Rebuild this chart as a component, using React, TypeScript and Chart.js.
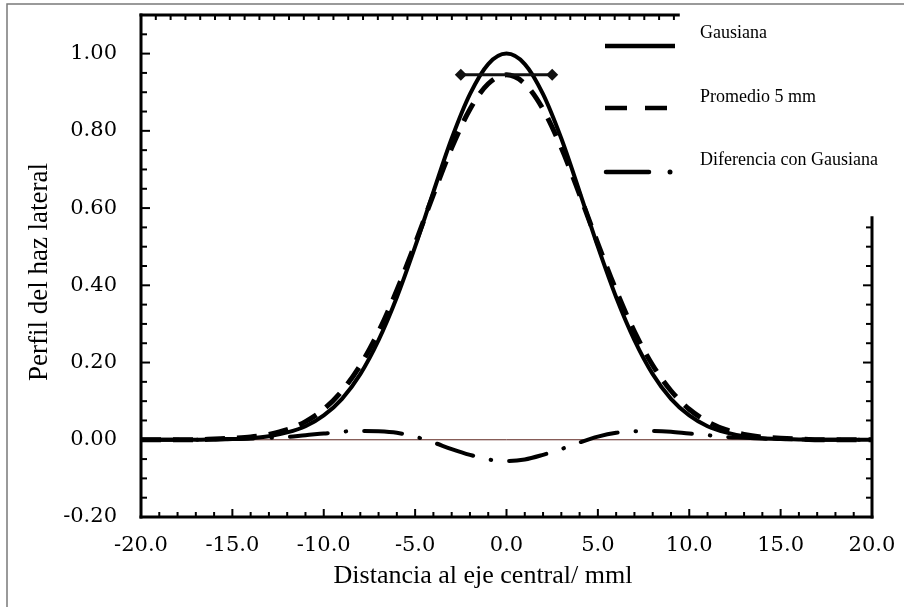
import React, { useEffect, useRef } from 'react';
import { Chart, registerables } from 'chart.js';

Chart.register(...registerables);

// ---- Data ----
const xValues = [-20, -19, -18, -17, -16, -15, -14, -13, -12, -11, -10, -9, -8, -7, -6, -5, -4, -3, -2, -1, 0,
  1, 2, 3, 4, 5, 6, 7, 8, 9, 10, 11, 12, 13, 14, 15, 16, 17, 18, 19, 20];

const gausiana = [0, 0, 0, 0, 0.001, 0.002, 0.004, 0.009, 0.019, 0.035, 0.063, 0.106, 0.170, 0.258, 0.369, 0.500, 0.642, 0.780, 0.895, 0.973, 1.000,
  0.973, 0.895, 0.780, 0.642, 0.500, 0.369, 0.258, 0.170, 0.106, 0.063, 0.035, 0.019, 0.009, 0.004, 0.002, 0.001, 0, 0, 0, 0];

const promedio = [0, 0, 0, 0, 0.002, 0.004, 0.007, 0.014, 0.026, 0.047, 0.079, 0.127, 0.193, 0.280, 0.387, 0.508, 0.635, 0.756, 0.856, 0.922, 0.945,
  0.922, 0.856, 0.756, 0.635, 0.508, 0.387, 0.280, 0.193, 0.127, 0.079, 0.047, 0.026, 0.014, 0.007, 0.004, 0.002, 0, 0, 0, 0];

const diferencia = [0, 0, 0, 0, 0.001, 0.002, 0.003, 0.005, 0.007, 0.012, 0.016, 0.021, 0.023, 0.022, 0.018, 0.008, -0.007, -0.024, -0.039, -0.051, -0.055,
  -0.051, -0.039, -0.024, -0.007, 0.008, 0.018, 0.022, 0.023, 0.021, 0.016, 0.012, 0.007, 0.005, 0.003, 0.002, 0.001, 0, 0, 0, 0];

const barX = [-2.5, 2.5];
const barY = [0.945, 0.945];

const zeroX = [-20, 20];
const zeroY = [0, 0];

const xTicks = [-20, -15, -10, -5, 0, 5, 10, 15, 20];
const yTicks = [-0.2, 0, 0.2, 0.4, 0.6, 0.8, 1.0];

const legendLabels = ['Gausiana', 'Promedio 5 mm', 'Diferencia con Gausiana'];
const xTitle = 'Distancia al eje central/ mml';
const yTitle = 'Perfil del haz lateral';

const toPoints = (xs: number[], ys: number[]) => xs.map((x, i) => ({ x, y: ys[i] }));

const SERIF = '"Liberation Serif", "Times New Roman", serif';
const TICK_FONT = '"DejaVu Serif", serif';

const decorPlugin = {
  id: 'decor',
  beforeDraw(chart: any) {
    const ctx = chart.ctx;
    ctx.save();
    ctx.fillStyle = '#fff';
    ctx.fillRect(0, 0, chart.width, chart.height);
    ctx.strokeStyle = '#7a7a7a';
    ctx.lineWidth = 1.5;
    ctx.strokeRect(7, 4, 1000, 1000);
    ctx.restore();
  },
  afterDraw(chart: any) {
    const ctx = chart.ctx;
    const { left, right, top, bottom } = chart.chartArea;
    const xs = chart.scales.x;
    const ys = chart.scales.y;
    ctx.save();
    ctx.strokeStyle = '#000';
    ctx.lineWidth = 3;
    ctx.lineCap = 'square';
    const seg = (x1: number, y1: number, x2: number, y2: number) => {
      ctx.beginPath();
      ctx.moveTo(x1, y1);
      ctx.lineTo(x2, y2);
      ctx.stroke();
    };
    const topEnd = xs.getPixelForValue(9.4);
    const rightStart = ys.getPixelForValue(0.575);
    seg(left, top, left, bottom);
    seg(left, bottom, right, bottom);
    seg(left, top, topEnd, top);
    seg(right, rightStart, right, bottom);

    // ticks (inward)
    ctx.lineWidth = 2;
    ctx.lineCap = 'butt';
    for (let i = -4; i <= 22; i++) {
      const py = ys.getPixelForValue(i * 0.05);
      const len = i % 4 === 0 ? 9 : 6;
      seg(left, py, left + len, py);
      if (i * 0.05 <= 0.56) seg(right, py, right - len, py);
    }
    for (let i = -20; i <= 20; i++) {
      const px = xs.getPixelForValue(i);
      const len = i % 5 === 0 ? 8 : 5;
      seg(px, bottom, px, bottom - len);
    }
    for (let i = 1; i * 0.81 - 20 < 9.3; i++) {
      const px = xs.getPixelForValue(-20 + i * 0.81);
      seg(px, top, px, top + 5);
    }

    // axis titles
    ctx.fillStyle = '#000';
    ctx.textBaseline = 'middle';
    ctx.textAlign = 'center';
    ctx.font = `26px ${SERIF}`;
    ctx.fillText(xTitle, 483, 576);
    ctx.save();
    ctx.translate(40, 272);
    ctx.rotate(-Math.PI / 2);
    ctx.font = `27px ${SERIF}`;
    ctx.fillText(yTitle, 0, 0);
    ctx.restore();

    // legend
    ctx.textAlign = 'left';
    ctx.font = `18px ${SERIF}`;
    const textX = 700;
    const textY = [33, 97, 160];
    const sampleY = [46, 108, 172];
    legendLabels.forEach((t, i) => ctx.fillText(t, textX, textY[i]));
    ctx.strokeStyle = '#000';
    ctx.lineWidth = 4.5;
    seg(605, sampleY[0], 675, sampleY[0]);
    seg(605, sampleY[1], 627, sampleY[1]);
    seg(645, sampleY[1], 667, sampleY[1]);
    ctx.lineCap = 'round';
    seg(606, sampleY[2], 649, sampleY[2]);
    ctx.beginPath();
    ctx.arc(670, sampleY[2], 2.5, 0, Math.PI * 2);
    ctx.fillStyle = '#000';
    ctx.fill();
    ctx.restore();
  },
};

export default function App() {
  const canvasRef = useRef<HTMLCanvasElement | null>(null);

  useEffect(() => {
    const canvas = canvasRef.current;
    if (!canvas) return;
    const chart = new Chart(canvas, {
      type: 'line',
      data: {
        datasets: [
          {
            label: 'bar',
            data: toPoints(barX, barY),
            borderColor: '#111',
            borderWidth: 3,
            pointStyle: 'rectRot',
            pointRadius: 6,
            pointBackgroundColor: '#111',
            pointBorderColor: '#111',
            pointBorderWidth: 0,
          },
          {
            label: legendLabels[0],
            data: toPoints(xValues, gausiana),
            borderColor: '#000',
            borderWidth: 4,
            pointRadius: 0,
            cubicInterpolationMode: 'monotone',
          },
          {
            label: legendLabels[1],
            data: toPoints(xValues, promedio),
            borderColor: '#000',
            borderWidth: 5,
            borderDash: [20, 12],
            pointRadius: 0,
            cubicInterpolationMode: 'monotone',
          },
          {
            label: legendLabels[2],
            data: toPoints(xValues, diferencia),
            borderColor: '#000',
            borderWidth: 4,
            borderDash: [38, 18, 0.5, 18],
            borderCapStyle: 'round',
            pointRadius: 0,
            cubicInterpolationMode: 'monotone',
          },
          {
            label: 'zero',
            data: toPoints(zeroX, zeroY),
            borderColor: '#5e2620',
            borderWidth: 1,
            pointRadius: 0,
          },
        ] as any,
      },
      options: {
        animation: false,
        responsive: false,
        events: [],
        layout: { padding: { left: 0, top: 15, right: 32, bottom: 0 } },
        plugins: {
          legend: { display: false },
          tooltip: { enabled: false },
        },
        scales: {
          x: {
            type: 'linear',
            min: -20,
            max: 20,
            grid: { display: false, drawTicks: false },
            border: { display: false },
            afterBuildTicks: (s: any) => { s.ticks = xTicks.map((v) => ({ value: v })); },
            afterFit: (s: any) => {
              s.height = 90;
              s.paddingLeft = 0;
              s.paddingRight = 0;
              s.paddingTop = 0;
              s.paddingBottom = 0;
            },
            ticks: {
              padding: 16,
              color: '#000',
              maxRotation: 0,
              font: { family: TICK_FONT, size: 21 },
              callback: (v: any) => Number(v).toFixed(1),
            },
          },
          y: {
            type: 'linear',
            min: -0.2,
            max: 1.1,
            grid: { display: false, drawTicks: false },
            border: { display: false },
            afterBuildTicks: (s: any) => { s.ticks = yTicks.map((v) => ({ value: v })); },
            afterFit: (s: any) => {
              s.width = 141;
              s.paddingLeft = 0;
              s.paddingRight = 0;
              s.paddingTop = 0;
              s.paddingBottom = 0;
            },
            ticks: {
              padding: 24,
              color: '#000',
              font: { family: TICK_FONT, size: 21 },
              callback: (v: any) => Number(v).toFixed(2),
            },
          },
        },
      } as any,
      plugins: [decorPlugin],
    });
    return () => chart.destroy();
  }, []);

  return (
    <div style={{ position: 'absolute', left: 0, top: 0, width: 904, height: 607, background: '#fff' }}>
      <canvas ref={canvasRef} width={904} height={607} style={{ display: 'block', width: 904, height: 607 }} />
    </div>
  );
}
